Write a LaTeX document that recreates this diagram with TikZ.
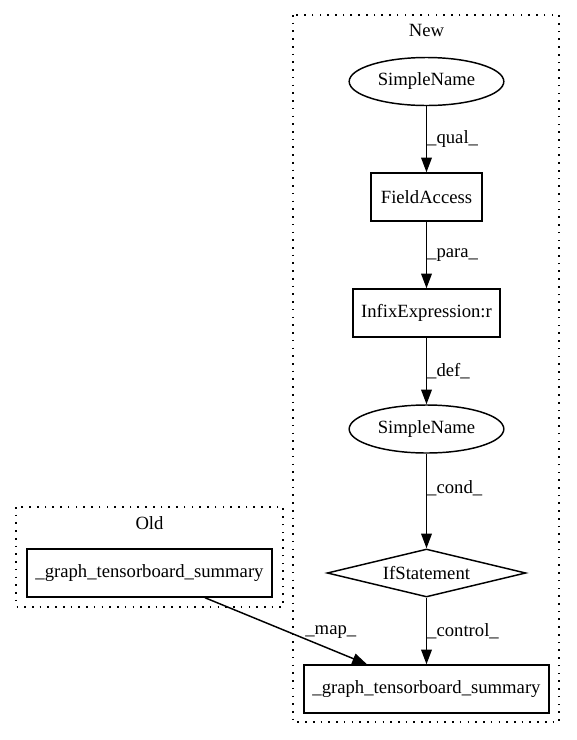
\documentclass[tikz,border=0pt]{standalone}
\usepackage{fontspec}
\setmainfont{Liberation Serif}
\usetikzlibrary{calc}
\usetikzlibrary{shapes.geometric}
\usetikzlibrary{arrows.meta}
\tikzstyle{cluster}=[line width=1.1pt,dash pattern=on 1.2pt off 4.6pt]
\tikzstyle{boxnode}=[draw,line width=1.1pt,rectangle,inner sep=0pt,minimum height=36pt]
\tikzstyle{ellnode}=[draw,line width=1.1pt,ellipse,inner sep=0pt,minimum width=116pt,minimum height=36pt]
\tikzstyle{condnode}=[draw,line width=1.1pt,diamond,aspect=4,inner sep=0pt,minimum width=149pt,minimum height=36pt]
\tikzstyle{flowedge}=[-{Triangle[length=11pt,width=8pt]},line width=1.1pt]
\tikzstyle{edgelab}=[anchor=west,inner sep=0pt]

\begin{document}
\begin{tikzpicture}[x=0.75pt,y=-0.75pt,font=\fontsize{14pt}{16pt}\selectfont]
  \useasboundingbox (0,0) rectangle (576,740);
  % clusters
  \draw[cluster] (293,15) rectangle (559,722);
  \node (lnew) at (426.5,30) {New};
  \draw[cluster] (16,507) rectangle (283,607);
  \node (lold) at (149.5,523) {Old};
  % nodes of New
  \node[ellnode] (sn1) at (426.5,81.5) {SimpleName};
  \node[boxnode,minimum width=83pt] (fa) at (426.5,197) {FieldAccess};
  \node[boxnode,minimum width=110pt] (infix) at (426.5,313) {InfixExpression:r};
  \node[ellnode] (sn2) at (426.5,429) {SimpleName};
  \node[condnode] (ifst) at (426.5,573) {IfStatement};
  \node[boxnode,minimum width=184pt] (gtsnew) at (426.5,689) {\_graph\_tensorboard\_summary};
  % node of Old
  \node[boxnode,minimum width=184pt] (gtsold) at (149.5,573) {\_graph\_tensorboard\_summary};
  % edges
  \draw[flowedge] (sn1) -- (fa) node[edgelab,midway] {\_qual\_};
  \draw[flowedge] (fa) -- (infix) node[edgelab,midway] {\_para\_};
  \draw[flowedge] (infix) -- (sn2) node[edgelab,midway] {\_def\_};
  \draw[flowedge] (sn2) -- (ifst) node[edgelab,pos=0.37] {\_cond\_};
  \draw[flowedge] (ifst) -- (gtsnew) node[edgelab,midway] {\_control\_};
  \draw[flowedge] ($(gtsold.south)+(55.5,0)$) -- ($(gtsnew.north)+(-59.5,0)$) node[edgelab,pos=0.5,xshift=14pt,yshift=-1pt] {\_map\_};
\end{tikzpicture}
\end{document}
